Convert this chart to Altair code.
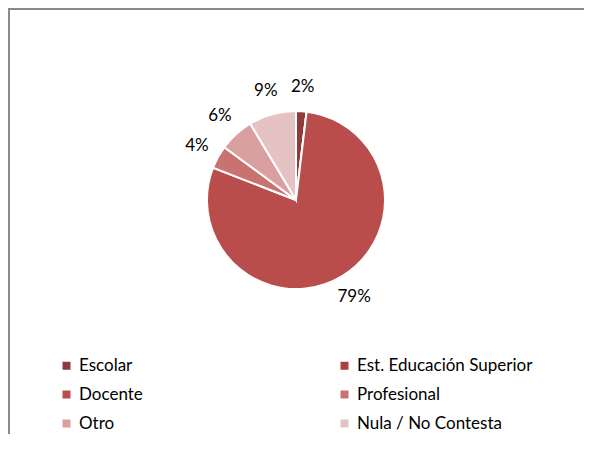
import altair as alt
import pandas as pd

categories = ["Escolar", "Est. Educación Superior", "Docente", "Profesional", "Otro", "Nula / No Contesta"]
values = [1.9, 0.0, 79.0, 4.2, 6.3, 8.6]
colors = ["#8E3B3A", "#A84341", "#B94D4B", "#C97371", "#D9A09F", "#E5C2C3"]

df = pd.DataFrame({"cat": categories, "val": values, "idx": list(range(len(categories)))})

W, H = 576, 426
CX, CY = 288, 192
FONT = "Lato"

base = alt.Chart(df).encode(
    theta=alt.Theta("val:Q", stack=True),
    order=alt.Order("idx:Q"),
)

pie = base.mark_arc(outerRadius=89, stroke="white", strokeWidth=2).encode(
    x=alt.value(CX),
    y=alt.value(CY),
    color=alt.Color(
        "cat:N",
        scale=alt.Scale(domain=categories, range=colors),
        sort=categories,
        legend=alt.Legend(
            title=None,
            orient="none",
            legendX=50,
            legendY=349,
            columns=2,
            direction="horizontal",
            columnPadding=193,
            rowPadding=11,
            symbolType="square",
            symbolSize=64,
            symbolStrokeWidth=0,
            labelFont=FONT,
            labelFontSize=17,
            labelColor="#000000",
            labelOffset=4,
            labelLimit=300,
            padding=0,
        ),
    ),
)

labels = base.transform_calculate(
    label="format(datum.val, '.0f') + '%'"
).mark_text(radius=113, font=FONT, fontSize=17, color="#000000", baseline="middle").encode(
    x=alt.value(CX),
    y=alt.value(CY),
    text=alt.condition("datum.val > 0.5", "label:N", alt.value("")),
)

frame_data = alt.Data(values=[{"a": 1}])
top_rule = alt.Chart(frame_data).mark_rule(color="#8a8a8a", strokeWidth=2).encode(
    x=alt.value(0), x2=alt.value(W), y=alt.value(1)
)
left_rule = alt.Chart(frame_data).mark_rule(color="#8a8a8a", strokeWidth=2).encode(
    x=alt.value(1), y=alt.value(0), y2=alt.value(H)
)

chart = alt.layer(pie, labels, top_rule, left_rule).properties(
    width=W, height=H, autosize=alt.AutoSizeParams(type="none"), padding=0,
    background="white",
).configure_view(stroke=None)

chart.save("out.html", embed_options={"renderer": "svg", "actions": False})
